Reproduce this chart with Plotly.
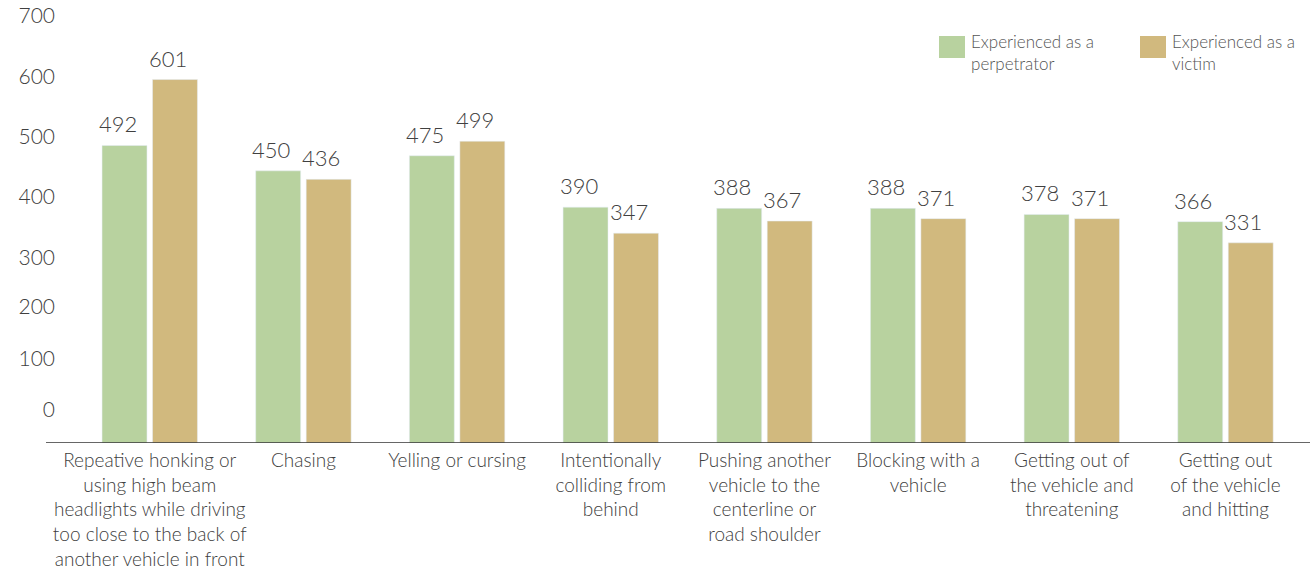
import plotly.graph_objects as go

# data
categories = [
    "Repeative honking or<br>using high beam<br>headlights while driving<br>too close to the back of<br>another vehicle in front",
    "Chasing",
    "Yelling or cursing",
    "Intentionally<br>colliding from<br>behind",
    "Pushing another<br>vehicle to the<br>centerline or<br>road shoulder",
    "Blocking with a<br>vehicle",
    "Getting out of<br>the vehicle and<br>threatening",
    "Getting out<br>of the vehicle<br>and hitting",
]
perpetrator = [492, 450, 475, 390, 388, 388, 378, 366]
victim = [601, 436, 499, 347, 367, 371, 371, 331]

series_names = ["Experienced as a<br>perpetrator", "Experienced as a<br>victim"]

# y tick labels as printed on the chart (they sit a little off the bar scale)
ytick_text = ["0", "100", "200", "300", "400", "500", "600", "700"]
ytick_pos = [55, 140, 225, 307, 407, 506, 605, 706]

GREEN = "#B8D29F"
GOLD = "#D1B97E"
TEXT = "#404040"
FONT = "Lato, sans-serif"

W, H = 1313, 574
M_L, M_R, M_T, M_B = 56, 3, 10, 131
PW = W - M_L - M_R
PH = H - M_T - M_B


def px_x(px):
    return (px - M_L) / PW


def px_y(py):
    return (H - M_B - py) / PH


fig = go.Figure()
fig.add_trace(go.Bar(x=categories, y=perpetrator, marker_color=GREEN,
                     name="perpetrator", showlegend=False))
fig.add_trace(go.Bar(x=categories, y=victim, marker_color=GOLD,
                     name="victim", showlegend=False))

# value labels above bars
for vals, shift in [(perpetrator, -32), (victim, 18)]:
    for cat, v in zip(categories, vals):
        fig.add_annotation(x=cat, y=v, text=str(v), showarrow=False,
                           xshift=shift, yshift=6, yanchor="bottom",
                           font=dict(size=22, color=TEXT, family=FONT, weight=300))

# axis line
fig.add_shape(type="line", xref="paper", yref="y",
              x0=px_x(46), x1=1, y0=0, y1=0,
              line=dict(color="#333333", width=1.5))

# legend (drawn by hand so swatches match the size of the original)
for name, color, sx in [(series_names[0], GREEN, 939), (series_names[1], GOLD, 1140)]:
    fig.add_shape(type="rect", xref="paper", yref="paper",
                  x0=px_x(sx), x1=px_x(sx + 26), y0=px_y(58), y1=px_y(36),
                  fillcolor=color, line=dict(width=0))
    fig.add_annotation(xref="paper", yref="paper", x=px_x(sx + 30), y=px_y(29),
                       xanchor="left", yanchor="top", align="left",
                       text=name, showarrow=False,
                       font=dict(size=17, color="#555555", family=FONT, weight=300))

fig.update_layout(
    width=W, height=H,
    margin=dict(l=M_L, r=M_R, t=M_T, b=M_B),
    paper_bgcolor="white",
    plot_bgcolor="white",
    font=dict(family=FONT, color=TEXT, size=19, weight=300),
    barmode="group",
    bargap=0.343,
    bargroupgap=0.11,
)
fig.update_xaxes(range=[-0.61, 7.55], showline=False, showgrid=False,
                 ticks="", tickangle=0, automargin=False, ticklabelstandoff=4,
                 tickfont=dict(size=19, color=TEXT, family=FONT, weight=300))
fig.update_yaxes(range=[0, 716], showgrid=False, zeroline=False,
                 showline=False, ticks="", automargin=False,
                 tickvals=ytick_pos, ticktext=ytick_text,
                 tickfont=dict(size=21, color=TEXT, family=FONT, weight=300))

# drop the page's default body margin so the figure sits at the window corner
fig.write_html("out.html", config={"displayModeBar": False},
               post_script="document.body.style.margin='0';")
